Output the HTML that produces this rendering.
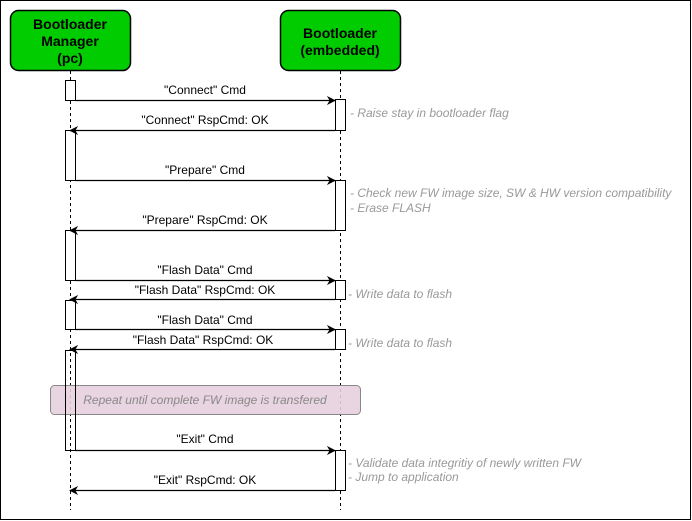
<!DOCTYPE html>
<html><head><meta charset="utf-8"><style>
html,body{margin:0;padding:0;background:#fff;}
svg{display:block;}
text{font-family:"Liberation Sans",sans-serif;}
</style></head><body>
<svg width="692" height="521" viewBox="0 0 692 521" xmlns="http://www.w3.org/2000/svg">
<defs>
<marker id="a" viewBox="0 0 10 10" refX="9" refY="5" markerWidth="9" markerHeight="9" orient="auto" markerUnits="userSpaceOnUse">
<path d="M0,0 L10,5 L0,10 L3,5 z" fill="#000"/></marker>
</defs>
<rect x="0.5" y="0.5" width="690" height="519" fill="#fff" stroke="#000"/>
<rect x="10.5" y="10.5" width="120" height="60" rx="8" fill="#00cc00" stroke="#000" stroke-width="1.5"/>
<text x="70" y="29" font-size="14" font-weight="bold" text-anchor="middle">Bootloader</text>
<text x="70" y="46" font-size="14" font-weight="bold" text-anchor="middle">Manager</text>
<text x="70" y="63" font-size="14" font-weight="bold" text-anchor="middle">(pc)</text>
<rect x="280.5" y="10.5" width="120" height="60" rx="8" fill="#00cc00" stroke="#000" stroke-width="1.5"/>
<text x="340" y="38" font-size="14" font-weight="bold" text-anchor="middle">Bootloader</text>
<text x="340" y="55" font-size="14" font-weight="bold" text-anchor="middle">(embedded)</text>
<line x1="70.5" y1="71" x2="70.5" y2="510" stroke="#000" stroke-dasharray="3,3"/>
<line x1="340.5" y1="71" x2="340.5" y2="510" stroke="#000" stroke-dasharray="3,3"/>
<rect x="50.5" y="385.5" width="310" height="29" rx="4" fill="#e6d0de" fill-opacity="0.9" stroke="#888" />
<text x="205" y="404" font-size="12" font-style="italic" fill="#888" text-anchor="middle">Repeat until complete FW image is transfered</text>
<g fill="#fff" stroke="#000">
<rect x="65.5" y="80.5" width="10" height="20"/>
<rect x="65.5" y="130.5" width="10" height="50"/>
<rect x="65.5" y="230.5" width="10" height="50"/>
<rect x="65.5" y="300.5" width="10" height="29"/>
<rect x="65.5" y="350.5" width="10" height="100" fill="none"/>
<rect x="335.5" y="99.5" width="10" height="31"/>
<rect x="335.5" y="180.5" width="10" height="50"/>
<rect x="335.5" y="280.5" width="10" height="19"/>
<rect x="335.5" y="329.5" width="10" height="20"/>
<rect x="335.5" y="450.5" width="10" height="40"/>
</g>
<g stroke="#000" stroke-width="1.2" marker-end="url(#a)">
<line x1="75" y1="100.5" x2="335" y2="100.5"/>
<line x1="335" y1="130.5" x2="70" y2="130.5"/>
<line x1="75" y1="180.5" x2="335" y2="180.5"/>
<line x1="335" y1="230.5" x2="70" y2="230.5"/>
<line x1="75" y1="280.5" x2="335" y2="280.5"/>
<line x1="335" y1="299.5" x2="70" y2="299.5"/>
<line x1="75" y1="329.5" x2="335" y2="329.5"/>
<line x1="335" y1="349.5" x2="70" y2="349.5"/>
<line x1="75" y1="450.5" x2="335" y2="450.5"/>
<line x1="335" y1="490.5" x2="70" y2="490.5"/>
</g>
<g font-size="12" text-anchor="middle" fill="#000">
<text x="205" y="94">"Connect" Cmd</text>
<text x="205" y="124">"Connect" RspCmd: OK</text>
<text x="205" y="174">"Prepare" Cmd</text>
<text x="205" y="224">"Prepare" RspCmd: OK</text>
<text x="205" y="274">"Flash Data" Cmd</text>
<text x="205" y="294">"Flash Data" RspCmd: OK</text>
<text x="205" y="324">"Flash Data" Cmd</text>
<text x="203" y="344">"Flash Data" RspCmd: OK</text>
<text x="205" y="443">"Exit" Cmd</text>
<text x="205" y="484">"Exit" RspCmd: OK</text>
</g>
<g font-size="12" font-style="italic" fill="#999">
<text x="350" y="117">- Raise stay in bootloader flag</text>
<text x="350" y="197">- Check new FW image size, SW &amp; HW version compatibility</text>
<text x="350" y="212">- Erase FLASH</text>
<text x="348" y="298">- Write data to flash</text>
<text x="348" y="347">- Write data to flash</text>
<text x="348" y="467">- Validate data integritiy of newly written FW</text>
<text x="348" y="481">- Jump to application</text>
</g>
</svg>
</body></html>
